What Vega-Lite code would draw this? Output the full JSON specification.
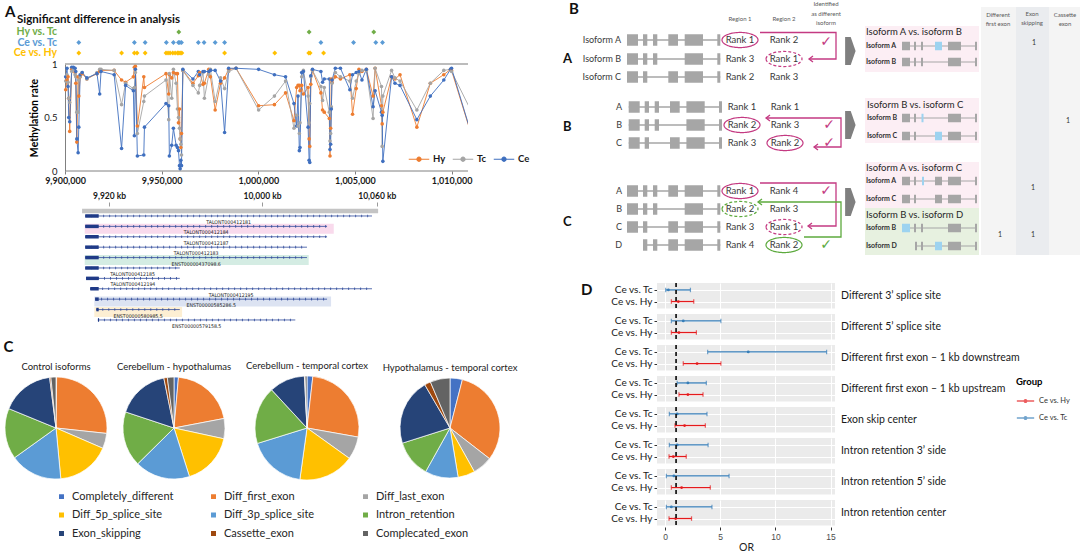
{
"$schema": "https://vega.github.io/schema/vega-lite/v6.json",
"background": "white",
"padding": {"left": 3, "top": 1, "right": 0, "bottom": 0},
"config": {
  "view": {"stroke": null},
  "font": "Lato",
  "title": {"font": "Lato", "color": "#111111"},
  "axis": {"labelFont": "Lato", "titleFont": "Lato"},
  "legend": {"labelFont": "Lato", "titleFont": "Lato"},
  "header": {"labelFont": "Lato", "titleFont": "Lato"}
},
"datasets": {
  "meth": [
    {"pos":9900350,"Hy":0.76,"Tc":0.84,"Ce":0.88},{"pos":9901050,"Hy":0.85,"Tc":0.90,"Ce":0.96},{"pos":9901570,"Hy":0.88,"Tc":0.83,"Ce":0.79},
    {"pos":9901920,"Hy":0.68,"Tc":0.68,"Ce":0.50},{"pos":9902440,"Hy":0.37,"Tc":0.64,"Ce":0.46},{"pos":9903480,"Hy":0.95,"Tc":0.93,"Ce":0.97},
    {"pos":9904360,"Hy":0.96,"Tc":0.95,"Ce":0.97},{"pos":9905230,"Hy":0.92,"Tc":0.90,"Ce":0.96},{"pos":9905570,"Hy":0.82,"Tc":0.88,"Ce":0.93},
    {"pos":9906100,"Hy":0.27,"Tc":0.55,"Ce":0.30},{"pos":9906790,"Hy":0.88,"Tc":0.55,"Ce":0.17},{"pos":9907140,"Hy":0.70,"Tc":0.85,"Ce":0.41},
    {"pos":9907840,"Hy":0.88,"Tc":0.88,"Ce":0.90},{"pos":9908880,"Hy":0.91,"Tc":0.92,"Ce":0.92},{"pos":9911320,"Hy":0.86,"Tc":0.86,"Ce":0.87},
    {"pos":9916550,"Hy":0.91,"Tc":0.92,"Ce":0.91},{"pos":9917940,"Hy":0.93,"Tc":0.95,"Ce":0.72},{"pos":9918640,"Hy":0.94,"Tc":0.95,"Ce":0.93},
    {"pos":9925430,"Hy":0.94,"Tc":0.94,"Ce":0.90},{"pos":9929270,"Hy":0.85,"Tc":0.62,"Ce":0.21},{"pos":9931360,"Hy":0.83,"Tc":0.82,"Ce":0.80},
    {"pos":9935360,"Hy":0.88,"Tc":0.77,"Ce":0.75},{"pos":9935890,"Hy":0.97,"Tc":0.78,"Ce":0.33},{"pos":9936410,"Hy":0.98,"Tc":0.92,"Ce":0.95},
    {"pos":9937450,"Hy":0.42,"Tc":0.35,"Ce":0.14},{"pos":9940760,"Hy":0.88,"Tc":0.65,"Ce":0.15},{"pos":9941110,"Hy":0.78,"Tc":0.70,"Ce":0.41},
    {"pos":9952260,"Hy":0.91,"Tc":0.85,"Ce":0.63},{"pos":9953650,"Hy":0.72,"Tc":0.48,"Ce":0.61},{"pos":9954000,"Hy":0.90,"Tc":0.91,"Ce":0.14},
    {"pos":9955220,"Hy":0.87,"Tc":0.68,"Ce":0.24},{"pos":9956090,"Hy":0.92,"Tc":0.95,"Ce":0.40},{"pos":9957490,"Hy":0.91,"Tc":0.82,"Ce":0.24},
    {"pos":9958180,"Hy":0.91,"Tc":0.58,"Ce":0.22},{"pos":9958710,"Hy":0.45,"Tc":0.50,"Ce":0.19},{"pos":9959230,"Hy":0.58,"Tc":0.40,"Ce":0.05},
    {"pos":9959580,"Hy":0.30,"Tc":0.30,"Ce":0.02},{"pos":9959930,"Hy":0.22,"Tc":0.25,"Ce":0.10},{"pos":9960270,"Hy":0.35,"Tc":0.15,"Ce":0.05},
    {"pos":9960970,"Hy":0.94,"Tc":0.94,"Ce":0.95},{"pos":9966200,"Hy":0.82,"Tc":0.80,"Ce":0.86},{"pos":9968980,"Hy":0.89,"Tc":0.73,"Ce":0.93},
    {"pos":9969680,"Hy":0.92,"Tc":0.80,"Ce":0.90},{"pos":9971420,"Hy":0.81,"Tc":0.92,"Ce":0.93},{"pos":9972120,"Hy":0.82,"Tc":0.68,"Ce":0.93},
    {"pos":9974380,"Hy":0.95,"Tc":0.90,"Ce":0.93},{"pos":9975250,"Hy":0.88,"Tc":0.95,"Ce":0.94},{"pos":9977690,"Hy":0.57,"Tc":0.65,"Ce":0.94},
    {"pos":9980480,"Hy":0.82,"Tc":0.87,"Ce":0.84},{"pos":9982570,"Hy":0.87,"Tc":0.77,"Ce":0.36},{"pos":9984660,"Hy":0.95,"Tc":0.93,"Ce":0.96},
    {"pos":9988490,"Hy":0.96,"Tc":0.96,"Ce":0.96},{"pos":10000170,"Hy":0.61,"Tc":0.57,"Ce":0.95},{"pos":10008350,"Hy":0.62,"Tc":0.70,"Ce":0.90},
    {"pos":10014100,"Hy":0.73,"Tc":0.84,"Ce":0.88},{"pos":10018460,"Hy":0.47,"Tc":0.40,"Ce":0.63},{"pos":10019850,"Hy":0.78,"Tc":0.52,"Ce":0.42},
    {"pos":10020550,"Hy":0.80,"Tc":0.42,"Ce":0.70},{"pos":10021240,"Hy":0.80,"Tc":0.35,"Ce":0.19},{"pos":10021590,"Hy":0.75,"Tc":0.45,"Ce":0.22},
    {"pos":10022460,"Hy":0.80,"Tc":0.88,"Ce":0.92},{"pos":10023330,"Hy":0.72,"Tc":0.94,"Ce":0.93},{"pos":10025770,"Hy":0.78,"Tc":0.70,"Ce":0.41},
    {"pos":10026300,"Hy":0.30,"Tc":0.45,"Ce":0.10},{"pos":10026640,"Hy":0.23,"Tc":0.63,"Ce":0.08},{"pos":10027170,"Hy":0.81,"Tc":0.88,"Ce":0.89},
    {"pos":10028040,"Hy":0.94,"Tc":0.94,"Ce":0.95},{"pos":10032390,"Hy":0.73,"Tc":0.79,"Ce":0.93},{"pos":10033260,"Hy":0.57,"Tc":0.66,"Ce":0.83},
    {"pos":10034130,"Hy":0.55,"Tc":0.78,"Ce":0.86},{"pos":10036750,"Hy":0.49,"Tc":0.55,"Ce":0.86},{"pos":10037100,"Hy":0.14,"Tc":0.28,"Ce":0.20},
    {"pos":10037440,"Hy":0.40,"Tc":0.35,"Ce":0.25},{"pos":10037790,"Hy":0.86,"Tc":0.60,"Ce":0.58},{"pos":10038140,"Hy":0.83,"Tc":0.82,"Ce":0.85},
    {"pos":10039880,"Hy":0.88,"Tc":0.92,"Ce":0.96},{"pos":10042500,"Hy":0.86,"Tc":0.88,"Ce":0.96},{"pos":10047370,"Hy":0.90,"Tc":0.84,"Ce":0.76},
    {"pos":10048770,"Hy":0.53,"Tc":0.68,"Ce":0.90},{"pos":10050680,"Hy":0.77,"Tc":0.84,"Ce":0.92},{"pos":10052080,"Hy":0.95,"Tc":0.91,"Ce":0.93},
    {"pos":10053640,"Hy":0.93,"Tc":0.94,"Ce":0.85},{"pos":10055910,"Hy":0.95,"Tc":0.94,"Ce":0.95},{"pos":10059390,"Hy":0.70,"Tc":0.49,"Ce":0.60},
    {"pos":10060440,"Hy":0.96,"Tc":0.96,"Ce":0.75},{"pos":10063750,"Hy":0.61,"Tc":0.79,"Ce":0.55},{"pos":10064100,"Hy":0.44,"Tc":0.23,"Ce":0.52},
    {"pos":10064440,"Hy":0.55,"Tc":0.70,"Ce":0.09},{"pos":10068970,"Hy":0.88,"Tc":0.94,"Ce":0.88},{"pos":10070720,"Hy":0.86,"Tc":0.87,"Ce":0.82},
    {"pos":10073330,"Hy":0.90,"Tc":0.84,"Ce":0.80},{"pos":10082040,"Hy":0.41,"Tc":0.57,"Ce":0.48},{"pos":10089010,"Hy":0.82,"Tc":0.82,"Ce":0.70},
    {"pos":10095980,"Hy":0.90,"Tc":0.94,"Ce":0.85},{"pos":10099460,"Hy":0.95,"Tc":0.95,"Ce":0.95},{"pos":10099980,"Hy":0.94,"Tc":0.93,"Ce":0.96},
    {"pos":10114000,"Hy":0.12,"Tc":0.42,"Ce":0.12}
  ],
  "sig": [
    {"pos":9958880,"comp":"Hy vs. Tc"},{"pos":10026300,"comp":"Hy vs. Tc"},{"pos":10059750,"comp":"Hy vs. Tc"},
    {"pos":9907140,"comp":"Ce vs. Tc"},{"pos":9935890,"comp":"Ce vs. Tc"},{"pos":9941460,"comp":"Ce vs. Tc"},{"pos":9952440,"comp":"Ce vs. Tc"},
    {"pos":9956090,"comp":"Ce vs. Tc"},{"pos":9958710,"comp":"Ce vs. Tc"},{"pos":9959400,"comp":"Ce vs. Tc"},{"pos":9960270,"comp":"Ce vs. Tc"},
    {"pos":9968980,"comp":"Ce vs. Tc"},{"pos":9971950,"comp":"Ce vs. Tc"},{"pos":9977690,"comp":"Ce vs. Tc"},{"pos":9982570,"comp":"Ce vs. Tc"},
    {"pos":10032390,"comp":"Ce vs. Tc"},{"pos":10049290,"comp":"Ce vs. Tc"},{"pos":10060790,"comp":"Ce vs. Tc"},{"pos":10064270,"comp":"Ce vs. Tc"},
    {"pos":9907140,"comp":"Ce vs. Hy"},{"pos":9929270,"comp":"Ce vs. Hy"},{"pos":9935890,"comp":"Ce vs. Hy"},{"pos":9937280,"comp":"Ce vs. Hy"},
    {"pos":9941460,"comp":"Ce vs. Hy"},{"pos":9952260,"comp":"Ce vs. Hy"},{"pos":9953310,"comp":"Ce vs. Hy"},{"pos":9954350,"comp":"Ce vs. Hy"},
    {"pos":9955740,"comp":"Ce vs. Hy"},{"pos":9956960,"comp":"Ce vs. Hy"},{"pos":9958180,"comp":"Ce vs. Hy"},{"pos":9958880,"comp":"Ce vs. Hy"},
    {"pos":9959580,"comp":"Ce vs. Hy"},{"pos":9960450,"comp":"Ce vs. Hy"},{"pos":9982570,"comp":"Ce vs. Hy"},{"pos":10008530,"comp":"Ce vs. Hy"},
    {"pos":10026120,"comp":"Ce vs. Hy"},{"pos":10026820,"comp":"Ce vs. Hy"},{"pos":10033790,"comp":"Ce vs. Hy"}
  ],
  "tracks": [
    {"track":1,"name":"TALONT000412181","start":9907.6,"end":10057.5,"cs":9907.6,"ce":9914.6,"band":null,"bs":null,"be":null},
    {"track":2,"name":"TALONT000412184","start":9907.6,"end":10034.0,"cs":9907.6,"ce":9914.6,"band":"hl1","bs":9907.3,"be":10037.5},
    {"track":3,"name":"TALONT000412187","start":9907.6,"end":10034.0,"cs":9907.6,"ce":9914.6,"band":null,"bs":null,"be":null},
    {"track":4,"name":"TALONT000412183","start":9907.6,"end":10023.5,"cs":9907.6,"ce":9914.6,"band":null,"bs":null,"be":null},
    {"track":5,"name":"ENST00000437098.6","start":9907.6,"end":10023.5,"cs":9907.6,"ce":9914.6,"band":"hl2","bs":9907.3,"be":10024.4},
    {"track":6,"name":"TALONT000412185","start":9907.6,"end":9957.0,"cs":9907.6,"ce":9914.6,"band":null,"bs":null,"be":null},
    {"track":7,"name":"TALONT000412194","start":9908.0,"end":9957.0,"cs":9908.0,"ce":9914.6,"band":null,"bs":null,"be":null},
    {"track":8,"name":"TALONT000412195","start":9910.2,"end":10057.5,"cs":9910.2,"ce":9914.6,"band":null,"bs":null,"be":null},
    {"track":9,"name":"ENST00000585286.5","start":9912.8,"end":10034.0,"cs":9912.8,"ce":9914.6,"band":"hl3","bs":9912.3,"be":10036.1},
    {"track":10,"name":"ENST00000580985.5","start":9913.4,"end":9957.0,"cs":9913.4,"ce":9914.6,"band":"hl4","bs":9912.3,"be":9958.2},
    {"track":11,"name":"ENST00000579158.5","start":9914.2,"end":10017.4,"cs":9914.2,"ce":9914.8,"band":null,"bs":null,"be":null}
  ],
  "ruler": [{"s": 9905.9, "e": 10060.7, "t": 0.52}],
  "pies": [
    {"pie":"Control isoforms","cat":"Completely_different","k":1,"v":0.2},{"pie":"Control isoforms","cat":"Diff_first_exon","k":2,"v":26.5},
    {"pie":"Control isoforms","cat":"Diff_last_exon","k":3,"v":4.8},{"pie":"Control isoforms","cat":"Diff_5p_splice_site","k":4,"v":17},
    {"pie":"Control isoforms","cat":"Diff_3p_splice_site","k":5,"v":16.6},{"pie":"Control isoforms","cat":"Intron_retention","k":6,"v":16.1},
    {"pie":"Control isoforms","cat":"Exon_skipping","k":7,"v":16.8},{"pie":"Control isoforms","cat":"Cassette_exon","k":8,"v":0.4},
    {"pie":"Control isoforms","cat":"Complecated_exon","k":9,"v":1.6},
    {"pie":"Cerebellum - hypothalumas","cat":"Completely_different","k":1,"v":1.4},{"pie":"Cerebellum - hypothalumas","cat":"Diff_first_exon","k":2,"v":20.6},
    {"pie":"Cerebellum - hypothalumas","cat":"Diff_last_exon","k":3,"v":6.4},{"pie":"Cerebellum - hypothalumas","cat":"Diff_5p_splice_site","k":4,"v":16.7},
    {"pie":"Cerebellum - hypothalumas","cat":"Diff_3p_splice_site","k":5,"v":17.5},{"pie":"Cerebellum - hypothalumas","cat":"Intron_retention","k":6,"v":17.5},
    {"pie":"Cerebellum - hypothalumas","cat":"Exon_skipping","k":7,"v":16.7},{"pie":"Cerebellum - hypothalumas","cat":"Cassette_exon","k":8,"v":1.1},
    {"pie":"Cerebellum - hypothalumas","cat":"Complecated_exon","k":9,"v":2.1},
    {"pie":"Cerebellum - temporal cortex","cat":"Completely_different","k":1,"v":1.8},{"pie":"Cerebellum - temporal cortex","cat":"Diff_first_exon","k":2,"v":26},
    {"pie":"Cerebellum - temporal cortex","cat":"Diff_last_exon","k":3,"v":7.1},{"pie":"Cerebellum - temporal cortex","cat":"Diff_5p_splice_site","k":4,"v":17.3},
    {"pie":"Cerebellum - temporal cortex","cat":"Diff_3p_splice_site","k":5,"v":18},{"pie":"Cerebellum - temporal cortex","cat":"Intron_retention","k":6,"v":17.9},
    {"pie":"Cerebellum - temporal cortex","cat":"Exon_skipping","k":7,"v":11.1},{"pie":"Cerebellum - temporal cortex","cat":"Cassette_exon","k":8,"v":0.2},
    {"pie":"Cerebellum - temporal cortex","cat":"Complecated_exon","k":9,"v":0.6},
    {"pie":"Hypothalamus - temporal cortex","cat":"Completely_different","k":1,"v":4},{"pie":"Hypothalamus - temporal cortex","cat":"Diff_first_exon","k":2,"v":31.5},
    {"pie":"Hypothalamus - temporal cortex","cat":"Diff_last_exon","k":3,"v":6.4},{"pie":"Hypothalamus - temporal cortex","cat":"Diff_5p_splice_site","k":4,"v":5.5},
    {"pie":"Hypothalamus - temporal cortex","cat":"Diff_3p_splice_site","k":5,"v":10.7},{"pie":"Hypothalamus - temporal cortex","cat":"Intron_retention","k":6,"v":12},
    {"pie":"Hypothalamus - temporal cortex","cat":"Exon_skipping","k":7,"v":21.5},{"pie":"Hypothalamus - temporal cortex","cat":"Cassette_exon","k":8,"v":2},
    {"pie":"Hypothalamus - temporal cortex","cat":"Complecated_exon","k":9,"v":6.4}
  ],
  "forest": [
    {"type":"Different 3’ splice site","comp":"Ce vs. Tc","or":0.3,"lo":0.06,"hi":2.3},
    {"type":"Different 3’ splice site","comp":"Ce vs. Hy","or":1.2,"lo":0.57,"hi":2.6},
    {"type":"Different 5’ splice site","comp":"Ce vs. Tc","or":1.65,"lo":0.57,"hi":5.06},
    {"type":"Different 5’ splice site","comp":"Ce vs. Hy","or":1.26,"lo":0.57,"hi":2.84},
    {"type":"Different first exon – 1 kb downstream","comp":"Ce vs. Tc","or":7.54,"lo":3.86,"hi":14.64},
    {"type":"Different first exon – 1 kb downstream","comp":"Ce vs. Hy","or":2.9,"lo":1.65,"hi":5.06},
    {"type":"Different first exon – 1 kb upstream","comp":"Ce vs. Tc","or":2.07,"lo":1.1,"hi":3.74},
    {"type":"Different first exon – 1 kb upstream","comp":"Ce vs. Hy","or":2.07,"lo":1.26,"hi":3.44},
    {"type":"Exon skip center","comp":"Ce vs. Tc","or":1.1,"lo":0.39,"hi":3.8},
    {"type":"Exon skip center","comp":"Ce vs. Hy","or":1.77,"lo":0.9,"hi":3.65},
    {"type":"Intron retention 3’ side","comp":"Ce vs. Tc","or":1.1,"lo":0.39,"hi":3.9},
    {"type":"Intron retention 3’ side","comp":"Ce vs. Hy","or":0.75,"lo":0.36,"hi":1.92},
    {"type":"Intron retention 5’ side","comp":"Ce vs. Tc","or":0.8,"lo":0.12,"hi":5.8},
    {"type":"Intron retention 5’ side","comp":"Ce vs. Hy","or":1.5,"lo":0.57,"hi":4.1},
    {"type":"Intron retention center","comp":"Ce vs. Tc","or":0.57,"lo":0.12,"hi":4.25},
    {"type":"Intron retention center","comp":"Ce vs. Hy","or":0.96,"lo":0.36,"hi":2.4}
  ],
  "bcol": [
    {"x1":418,"x2":453,"y1":7,"y2":255,"c":"a"},{"x1":453,"x2":486,"y1":7,"y2":255,"c":"b"},{"x1":486,"x2":520,"y1":7,"y2":255,"c":"a"}
  ],
  "bbox": [
    {"x1":302,"x2":416,"y1":26,"y2":72,"l":"r1"},{"x1":302,"x2":416,"y1":98,"y2":143,"l":"r1"},
    {"x1":302,"x2":416,"y1":162,"y2":208,"l":"r1"},{"x1":302,"x2":416,"y1":208,"y2":255,"l":"r2"}
  ],
  "bmod": [
    {"k":"b","y":40,"s":64,"e":157.3},{"k":"b","y":59,"s":64,"e":157.3},{"k":"b","y":77,"s":64,"e":157.3},
    {"k":"b","y":107,"s":65.7,"e":159},{"k":"b","y":125,"s":65.7,"e":159},{"k":"b","y":143,"s":65.7,"e":159},
    {"k":"b","y":191,"s":64,"e":157.3},{"k":"b","y":209,"s":64,"e":157.3},{"k":"b","y":227,"s":64,"e":157.3},{"k":"b","y":245,"s":80,"e":157.3},
    {"k":"m","y":46,"s":339,"e":414},{"k":"m","y":62,"s":339,"e":414},{"k":"m","y":118,"s":339,"e":414},{"k":"m","y":136,"s":339,"e":414},
    {"k":"m","y":181,"s":339,"e":414},{"k":"m","y":199,"s":339,"e":414},{"k":"m","y":228,"s":339,"e":414},{"k":"m","y":246,"s":352,"e":414}
  ],
  "bex": [
    {"k":"b","y":40,"s":64,"e":75,"h":0},{"k":"b","y":40,"s":80,"e":84.3,"h":0},{"k":"b","y":40,"s":90,"e":94.3,"h":0},{"k":"b","y":40,"s":105.3,"e":115,"h":0},{"k":"b","y":40,"s":121.7,"e":140,"h":0},{"k":"b","y":40,"s":154.3,"e":157.3,"h":0},
    {"k":"b","y":59,"s":64,"e":75,"h":0},{"k":"b","y":59,"s":80,"e":84.3,"h":0},{"k":"b","y":59,"s":90,"e":94.3,"h":0},{"k":"b","y":59,"s":121.7,"e":140,"h":0},{"k":"b","y":59,"s":154.3,"e":157.3,"h":0},
    {"k":"b","y":77,"s":64,"e":75,"h":0},{"k":"b","y":77,"s":80,"e":84.3,"h":0},{"k":"b","y":77,"s":105.3,"e":115,"h":0},{"k":"b","y":77,"s":121.7,"e":140,"h":0},{"k":"b","y":77,"s":154.3,"e":157.3,"h":0},
    {"k":"b","y":107,"s":65.7,"e":76.7,"h":0},{"k":"b","y":107,"s":81.7,"e":86,"h":0},{"k":"b","y":107,"s":91.7,"e":96,"h":0},{"k":"b","y":107,"s":107,"e":116.7,"h":0},{"k":"b","y":107,"s":123.4,"e":141.7,"h":0},{"k":"b","y":107,"s":156,"e":159,"h":0},
    {"k":"b","y":125,"s":65.7,"e":76.7,"h":0},{"k":"b","y":125,"s":81.7,"e":86,"h":0},{"k":"b","y":125,"s":91.7,"e":96,"h":0},{"k":"b","y":125,"s":123.4,"e":141.7,"h":0},{"k":"b","y":125,"s":156,"e":159,"h":0},
    {"k":"b","y":143,"s":65.7,"e":76.7,"h":0},{"k":"b","y":143,"s":81.7,"e":86,"h":0},{"k":"b","y":143,"s":107,"e":116.7,"h":0},{"k":"b","y":143,"s":123.4,"e":141.7,"h":0},{"k":"b","y":143,"s":156,"e":159,"h":0},
    {"k":"b","y":191,"s":64,"e":75,"h":0},{"k":"b","y":191,"s":80,"e":84.3,"h":0},{"k":"b","y":191,"s":90,"e":94.3,"h":0},{"k":"b","y":191,"s":105.3,"e":115,"h":0},{"k":"b","y":191,"s":121.7,"e":140,"h":0},{"k":"b","y":191,"s":154.3,"e":157.3,"h":0},
    {"k":"b","y":209,"s":64,"e":75,"h":0},{"k":"b","y":209,"s":80,"e":84.3,"h":0},{"k":"b","y":209,"s":90,"e":94.3,"h":0},{"k":"b","y":209,"s":121.7,"e":140,"h":0},{"k":"b","y":209,"s":154.3,"e":157.3,"h":0},
    {"k":"b","y":227,"s":64,"e":75,"h":0},{"k":"b","y":227,"s":80,"e":84.3,"h":0},{"k":"b","y":227,"s":105.3,"e":115,"h":0},{"k":"b","y":227,"s":121.7,"e":140,"h":0},{"k":"b","y":227,"s":154.3,"e":157.3,"h":0},
    {"k":"b","y":245,"s":80,"e":84.3,"h":0},{"k":"b","y":245,"s":90,"e":94.3,"h":0},{"k":"b","y":245,"s":105.3,"e":115,"h":0},{"k":"b","y":245,"s":121.7,"e":140,"h":0},{"k":"b","y":245,"s":154.3,"e":157.3,"h":0},
    {"k":"m","y":46,"s":339,"e":347,"h":0},{"k":"m","y":46,"s":351,"e":353,"h":0},{"k":"m","y":46,"s":358,"e":360,"h":0},{"k":"m","y":46,"s":372,"e":379,"h":1},{"k":"m","y":46,"s":385,"e":398,"h":0},{"k":"m","y":46,"s":412,"e":414,"h":0},
    {"k":"m","y":62,"s":339,"e":347,"h":0},{"k":"m","y":62,"s":351,"e":353,"h":0},{"k":"m","y":62,"s":358,"e":360,"h":0},{"k":"m","y":62,"s":385,"e":398,"h":0},{"k":"m","y":62,"s":412,"e":414,"h":0},
    {"k":"m","y":118,"s":339,"e":347,"h":0},{"k":"m","y":118,"s":351,"e":353,"h":0},{"k":"m","y":118,"s":358.5,"e":360.5,"h":1},{"k":"m","y":118,"s":385,"e":398,"h":0},{"k":"m","y":118,"s":412,"e":414,"h":0},
    {"k":"m","y":136,"s":339,"e":347,"h":0},{"k":"m","y":136,"s":351,"e":353,"h":0},{"k":"m","y":136,"s":372,"e":379,"h":1},{"k":"m","y":136,"s":385,"e":398,"h":0},{"k":"m","y":136,"s":412,"e":414,"h":0},
    {"k":"m","y":181,"s":339,"e":347,"h":0},{"k":"m","y":181,"s":351,"e":353,"h":0},{"k":"m","y":181,"s":359,"e":361,"h":1},{"k":"m","y":181,"s":372,"e":379,"h":0},{"k":"m","y":181,"s":385,"e":398,"h":0},{"k":"m","y":181,"s":412,"e":414,"h":0},
    {"k":"m","y":199,"s":339,"e":347,"h":0},{"k":"m","y":199,"s":351,"e":353,"h":0},{"k":"m","y":199,"s":372,"e":379,"h":0},{"k":"m","y":199,"s":385,"e":398,"h":0},{"k":"m","y":199,"s":412,"e":414,"h":0},
    {"k":"m","y":228,"s":339,"e":347,"h":1},{"k":"m","y":228,"s":351,"e":353,"h":0},{"k":"m","y":228,"s":358,"e":360,"h":0},{"k":"m","y":228,"s":385,"e":398,"h":0},{"k":"m","y":228,"s":412,"e":414,"h":0},
    {"k":"m","y":246,"s":352,"e":354,"h":0},{"k":"m","y":246,"s":358,"e":360,"h":0},{"k":"m","y":246,"s":372,"e":379,"h":1},{"k":"m","y":246,"s":385,"e":398,"h":0},{"k":"m","y":246,"s":412,"e":414,"h":0}
  ],
  "bell": [
    {"x":177,"y":40,"l":"r1","d":"s"},{"x":221,"y":59,"l":"r1","d":"d"},{"x":179,"y":125,"l":"r1","d":"s"},{"x":222,"y":143,"l":"r1","d":"s"},
    {"x":177,"y":191,"l":"r1","d":"s"},{"x":177,"y":209,"l":"r2","d":"d"},{"x":221,"y":227,"l":"r1","d":"d"},{"x":221,"y":245,"l":"r2","d":"s"}
  ],
  "bpath": [
    {"p":"p1","o":0,"x":197,"y":32.5,"l":"r1"},{"p":"p1","o":1,"x":273,"y":32.5,"l":"r1"},{"p":"p1","o":2,"x":273,"y":59,"l":"r1"},{"p":"p1","o":3,"x":246,"y":59,"l":"r1"},
    {"p":"p2","o":0,"x":203,"y":118,"l":"r1"},{"p":"p2","o":1,"x":278,"y":118,"l":"r1"},{"p":"p2","o":2,"x":278,"y":147,"l":"r1"},{"p":"p2","o":3,"x":251,"y":147,"l":"r1"},
    {"p":"p3","o":0,"x":197,"y":183,"l":"r1"},{"p":"p3","o":1,"x":273,"y":183,"l":"r1"},{"p":"p3","o":2,"x":273,"y":226,"l":"r1"},{"p":"p3","o":3,"x":245,"y":226,"l":"r1"},
    {"p":"p4","o":0,"x":241,"y":237,"l":"r2"},{"p":"p4","o":1,"x":278,"y":237,"l":"r2"},{"p":"p4","o":2,"x":278,"y":202,"l":"r2"},{"p":"p4","o":3,"x":195,"y":202,"l":"r2"}
  ],
  "bhead": [
    {"x":246,"y":59,"l":"r1"},{"x":203,"y":118,"l":"r1"},{"x":251,"y":147,"l":"r1"},{"x":245,"y":226,"l":"r1"},{"x":195,"y":202,"l":"r2"}
  ],
  "bchk": [
    {"x":263,"y":42,"l":"r1"},{"x":266,"y":125,"l":"r1"},{"x":266,"y":143,"l":"r1"},{"x":263,"y":191,"l":"r1"},{"x":263,"y":245,"l":"r2"}
  ],
  "barr": [{"x":287,"y":51},{"x":287,"y":125},{"x":287,"y":202}],
  "bt": [
    {"r":"P","x":6,"y":9,"t":"B"},
    {"r":"S","x":0,"y":59,"t":"A"},{"r":"S","x":0,"y":127,"t":"B"},{"r":"S","x":0,"y":222,"t":"C"},
    {"r":"I","x":58,"y":40,"t":"Isoform A"},{"r":"I","x":58,"y":59,"t":"Isoform B"},{"r":"I","x":58,"y":77,"t":"Isoform C"},
    {"r":"I","x":59,"y":107,"t":"A"},{"r":"I","x":59,"y":125,"t":"B"},{"r":"I","x":59,"y":143,"t":"C"},
    {"r":"I","x":59,"y":191,"t":"A"},{"r":"I","x":59,"y":209,"t":"B"},{"r":"I","x":59,"y":227,"t":"C"},{"r":"I","x":59,"y":245,"t":"D"},
    {"r":"R","x":177,"y":40,"t":"Rank 1"},{"r":"R","x":221,"y":40,"t":"Rank 2"},
    {"r":"R","x":177,"y":59,"t":"Rank 3"},{"r":"R","x":221,"y":59,"t":"Rank 1"},
    {"r":"R","x":177,"y":77,"t":"Rank 2"},{"r":"R","x":221,"y":77,"t":"Rank 3"},
    {"r":"R","x":179,"y":107,"t":"Rank 1"},{"r":"R","x":222,"y":107,"t":"Rank 1"},
    {"r":"R","x":179,"y":125,"t":"Rank 2"},{"r":"R","x":222,"y":125,"t":"Rank 3"},
    {"r":"R","x":179,"y":143,"t":"Rank 3"},{"r":"R","x":222,"y":143,"t":"Rank 2"},
    {"r":"R","x":177,"y":191,"t":"Rank 1"},{"r":"R","x":221,"y":191,"t":"Rank 4"},
    {"r":"R","x":177,"y":209,"t":"Rank 2"},{"r":"R","x":221,"y":209,"t":"Rank 3"},
    {"r":"R","x":177,"y":227,"t":"Rank 3"},{"r":"R","x":221,"y":227,"t":"Rank 1"},
    {"r":"R","x":177,"y":245,"t":"Rank 4"},{"r":"R","x":221,"y":245,"t":"Rank 2"},
    {"r":"H","x":177,"y":19,"t":"Region 1"},{"r":"H","x":221,"y":19,"t":"Region 2"},
    {"r":"H","x":263,"y":4,"t":"Identified"},{"r":"H","x":263,"y":14,"t":"as different"},{"r":"H","x":263,"y":23,"t":"isoform"},
    {"r":"H","x":435,"y":15,"t":"Different"},{"r":"H","x":435,"y":24,"t":"first exon"},
    {"r":"H","x":469,"y":14,"t":"Exon"},{"r":"H","x":469,"y":23,"t":"skipping"},
    {"r":"H","x":502,"y":15,"t":"Cassette"},{"r":"H","x":502,"y":24,"t":"exon"},
    {"r":"T","x":303,"y":32,"t":"Isoform A vs. isoform B"},{"r":"T","x":304,"y":105,"t":"Isoform B vs. isoform C"},
    {"r":"T","x":303,"y":168,"t":"Isoform A vs. isoform C"},{"r":"T","x":303,"y":215,"t":"Isoform B vs. isoform D"},
    {"r":"M","x":303,"y":46,"t":"Isoform A"},{"r":"M","x":303,"y":62,"t":"Isoform B"},
    {"r":"M","x":304,"y":118,"t":"Isoform B"},{"r":"M","x":304,"y":136,"t":"Isoform C"},
    {"r":"M","x":303,"y":181,"t":"Isoform A"},{"r":"M","x":303,"y":199,"t":"Isoform C"},
    {"r":"M","x":303,"y":228,"t":"Isoform B"},{"r":"M","x":303,"y":246,"t":"Isoform D"},
    {"r":"V","x":471,"y":43,"t":"1"},{"r":"V","x":505,"y":121,"t":"1"},{"r":"V","x":470,"y":188,"t":"1"},{"r":"V","x":437,"y":235,"t":"1"},{"r":"V","x":470,"y":235,"t":"1"}
  ]
},
"hconcat": [
  {
    "vconcat": [
      {
        "vconcat": [
          {
            "title": {"text": "A", "anchor": "start", "frame": "group", "fontSize": 15, "fontWeight": "bold", "offset": 0, "dy": 6},
            "vconcat": [
              {
                "width": 463, "height": 33,
                "title": {"text": "Significant difference in analysis", "anchor": "start", "frame": "group", "dx": 12, "fontSize": 11.5, "fontWeight": "bold", "offset": 1},
                "encoding": {
                  "y": {"field": "comp", "type": "nominal", "sort": ["Hy vs. Tc", "Ce vs. Tc", "Ce vs. Hy"], "scale": {"type": "point", "padding": 0.571}, "axis": null},
                  "color": {"field": "comp", "type": "nominal", "scale": {"domain": ["Hy vs. Tc", "Ce vs. Tc", "Ce vs. Hy"], "range": ["#70AD47", "#5B9BD5", "#FFC000"]}, "legend": null}
                },
                "layer": [
                  {"data": {"name": "sig"}, "mark": {"type": "point", "shape": "diamond", "filled": true, "size": 24, "opacity": 1},
                   "encoding": {"x": {"field": "pos", "type": "quantitative", "scale": {"domain": [9868956, 10108500], "nice": false, "zero": false}, "axis": null}}},
                  {"data": {"values": [{"comp": "Hy vs. Tc"}, {"comp": "Ce vs. Tc"}, {"comp": "Ce vs. Hy"}]},
                   "mark": {"type": "text", "align": "right", "dx": -8, "fontSize": 10.5, "fontWeight": "bold"},
                   "encoding": {"x": {"datum": 9900000, "type": "quantitative"}, "text": {"field": "comp"}}}
                ]
              },
              {
                "width": 463, "height": 107,
                "layer": [
                  {"data": {"name": "meth"}, "transform": [{"fold": ["Hy", "Tc", "Ce"], "as": ["series", "rate"]}],
                   "mark": {"type": "line", "strokeWidth": 0.9, "clip": true},
                   "encoding": {
                     "x": {"field": "pos", "type": "quantitative", "scale": {"domain": [9868956, 10108500], "nice": false, "zero": false},
                           "axis": {"values": [9900000, 9950000, 10000000, 10050000, 10100000], "labelExpr": "datum.value == 10000000 ? '1,000,000' : datum.value == 10050000 ? '1,005,000' : datum.value == 10100000 ? '1,010,000' : format(datum.value, ',')", "labelFontWeight": "bold", "labelFontSize": 9, "labelColor": "#1a1a1a", "tickSize": 3, "tickColor": "#808080", "domain": false, "grid": false, "title": null, "labelPadding": 2, "labelFlush": false, "labelOverlap": false}},
                     "y": {"field": "rate", "type": "quantitative", "scale": {"domain": [0, 1], "nice": false},
                           "axis": {"offset": -60, "values": [0, 0.5, 1], "format": "~g", "title": "Methylation rate", "titleFontWeight": "bold", "titleFontSize": 10.5, "titleX": -26, "titleY": 53.5, "domainColor": "#808080", "ticks": false, "labelPadding": 8, "labelFontSize": 9.5, "labelColor": "#1a1a1a", "grid": false}},
                     "color": {"field": "series", "type": "nominal", "scale": {"domain": ["Hy", "Tc", "Ce"], "range": ["#ED7D31", "#A5A5A5", "#3F6FBF"]},
                               "legend": {"orient": "none", "legendX": 403, "legendY": 84, "direction": "horizontal", "title": null, "symbolType": "M-1,0L1,0M-0.2,0A0.2,0.2,0,1,1,0.2,0A0.2,0.2,0,1,1,-0.2,0M-0.1,0A0.1,0.1,0,1,1,0.1,0A0.1,0.1,0,1,1,-0.1,0", "symbolSize": 420, "symbolStrokeWidth": 1.2, "labelFontSize": 9.5, "labelFontWeight": "bold", "labelColor": "#1a1a1a", "labelOffset": 3, "columnPadding": 4}}
                   }},
                  {"data": {"name": "meth"}, "transform": [{"fold": ["Hy", "Tc", "Ce"], "as": ["series", "rate"]}, {"filter": "datum.pos < 10108500"}],
                   "mark": {"type": "point", "filled": true, "size": 13, "opacity": 1},
                   "encoding": {"x": {"field": "pos", "type": "quantitative"}, "y": {"field": "rate", "type": "quantitative"}, "color": {"field": "series", "type": "nominal"}}},
                  {"data": {"values": [{}]}, "mark": {"type": "rule", "color": "#A6A6A6", "strokeWidth": 1.4},
                   "encoding": {"x": {"datum": 9900000, "type": "quantitative"}, "x2": {"datum": 10108500}, "y": {"datum": 1, "type": "quantitative"}}},
                  {"data": {"values": [{}]}, "mark": {"type": "rule", "color": "#808080", "strokeWidth": 1},
                   "encoding": {"x": {"datum": 9900000, "type": "quantitative"}, "x2": {"datum": 10108500}, "y": {"datum": 0, "type": "quantitative"}}}
                ]
              }
            ],
            "spacing": 0,
            "resolve": {"scale": {"color": "independent"}}
          },
          {
            "width": 380, "height": 123,
            "encoding": {
              "x": {"type": "quantitative", "scale": {"domain": [9865.6, 10064.3], "nice": false, "zero": false},
                    "axis": {"orient": "top", "values": [9920, 10000, 10060], "format": ",.0f", "labelExpr": "datum.label + ' kb'", "labelOverlap": false, "labelFlush": false, "labelFontWeight": "bold", "labelFontSize": 8.5, "labelColor": "#1a1a1a", "tickSize": 4, "tickColor": "#9A9A9A", "domain": false, "labelPadding": 2, "title": null, "grid": false}},
              "y": {"type": "quantitative", "scale": {"domain": [0.04, 11.87], "reverse": true, "nice": false, "zero": false}, "axis": null}
            },
            "layer": [
              {"data": {"name": "ruler"}, "mark": {"type": "rule", "strokeWidth": 4.5, "color": "#C4C4C4"},
               "encoding": {"x": {"field": "s"}, "x2": {"field": "e"}, "y": {"field": "t"}}},
              {"data": {"name": "tracks"}, "transform": [{"filter": "datum.band != null"}], "mark": {"type": "rule", "strokeWidth": 10, "yOffset": 2.4},
               "encoding": {"x": {"field": "bs"}, "x2": {"field": "be"}, "y": {"field": "track"},
                            "color": {"field": "band", "type": "nominal", "scale": {"domain": ["hl1", "hl2", "hl3", "hl4"], "range": ["#F9DAEC", "#D4ECE3", "#DCE3F2", "#FDEFD3"]}, "legend": null}}},
              {"data": {"name": "tracks"}, "mark": {"type": "rule", "strokeWidth": 0.8, "color": "#2F4A9A"},
               "encoding": {"x": {"field": "start"}, "x2": {"field": "end"}, "y": {"field": "track"}}},
              {"data": {"name": "tracks"}, "mark": {"type": "rule", "strokeWidth": 2.6, "strokeDash": [0.8, 5.2], "color": "#2F4A9A"},
               "encoding": {"x": {"field": "start"}, "x2": {"field": "end"}, "y": {"field": "track"}}},
              {"data": {"name": "tracks"}, "mark": {"type": "rule", "strokeWidth": 3.5, "color": "#1F3A87"},
               "encoding": {"x": {"field": "cs"}, "x2": {"field": "ce"}, "y": {"field": "track"}}},
              {"data": {"name": "tracks"}, "transform": [{"fold": ["start", "end"], "as": ["kk", "p"]}],
               "mark": {"type": "text", "dy": 6, "fontSize": 5.2, "font": "DejaVu Sans Condensed", "color": "#222222"},
               "encoding": {"x": {"field": "p", "aggregate": "mean"}, "y": {"field": "track"}, "text": {"field": "name"}}}
            ]
          }
        ],
        "spacing": 6,
        "resolve": {"scale": {"color": "independent"}}
      },
      {
        "title": {"text": "C", "anchor": "start", "fontSize": 15, "fontWeight": "bold", "offset": 6},
        "spacing": 2,
        "resolve": {"scale": {"theta": "independent"}},
        "hconcat": [
          {"width": 102, "height": 104, "title": {"text": "Control isoforms", "fontSize": 9.5, "fontWeight": "normal", "offset": 4, "color": "#222222"},
           "data": {"name": "pies"}, "transform": [{"filter": "datum.pie === 'Control isoforms'"}],
           "mark": {"type": "arc", "outerRadius": 51, "stroke": "#ffffff", "strokeWidth": 0.7},
           "encoding": {"theta": {"field": "v", "type": "quantitative", "stack": true}, "order": {"field": "k", "type": "quantitative"},
             "color": {"field": "cat", "type": "nominal", "scale": {"domain": ["Completely_different", "Diff_first_exon", "Diff_last_exon", "Diff_5p_splice_site", "Diff_3p_splice_site", "Intron_retention", "Exon_skipping", "Cassette_exon", "Complecated_exon"], "range": ["#4472C4", "#ED7D31", "#A5A5A5", "#FFC000", "#5B9BD5", "#70AD47", "#264478", "#9E480E", "#636363"]},
               "legend": {"orient": "none", "legendX": 51, "legendY": 115, "columns": 3, "direction": "horizontal", "title": null, "symbolType": "square", "symbolSize": 42, "labelFontSize": 11, "labelColor": "#262626", "labelOffset": 5, "columnPadding": 33, "rowPadding": 5.5, "gridAlign": "all", "labelLimit": 200}}}},
          {"width": 126, "height": 104, "title": {"text": "Cerebellum - hypothalumas", "fontSize": 9.5, "fontWeight": "normal", "offset": 4, "color": "#222222"},
           "data": {"name": "pies"}, "transform": [{"filter": "datum.pie === 'Cerebellum - hypothalumas'"}],
           "mark": {"type": "arc", "outerRadius": 51, "stroke": "#ffffff", "strokeWidth": 0.7},
           "encoding": {"theta": {"field": "v", "type": "quantitative", "stack": true}, "order": {"field": "k", "type": "quantitative"},
             "color": {"field": "cat", "type": "nominal", "scale": {"domain": ["Completely_different", "Diff_first_exon", "Diff_last_exon", "Diff_5p_splice_site", "Diff_3p_splice_site", "Intron_retention", "Exon_skipping", "Cassette_exon", "Complecated_exon"], "range": ["#4472C4", "#ED7D31", "#A5A5A5", "#FFC000", "#5B9BD5", "#70AD47", "#264478", "#9E480E", "#636363"]},
               "legend": {"orient": "none", "legendX": 51, "legendY": 115, "columns": 3, "direction": "horizontal", "title": null, "symbolType": "square", "symbolSize": 42, "labelFontSize": 11, "labelColor": "#262626", "labelOffset": 5, "columnPadding": 33, "rowPadding": 5.5, "gridAlign": "all", "labelLimit": 200}}}},
          {"width": 136, "height": 104, "title": {"text": "Cerebellum - temporal cortex", "fontSize": 9.5, "fontWeight": "normal", "offset": 4, "color": "#222222"},
           "data": {"name": "pies"}, "transform": [{"filter": "datum.pie === 'Cerebellum - temporal cortex'"}],
           "mark": {"type": "arc", "outerRadius": 52, "stroke": "#ffffff", "strokeWidth": 0.7},
           "encoding": {"theta": {"field": "v", "type": "quantitative", "stack": true}, "order": {"field": "k", "type": "quantitative"},
             "color": {"field": "cat", "type": "nominal", "scale": {"domain": ["Completely_different", "Diff_first_exon", "Diff_last_exon", "Diff_5p_splice_site", "Diff_3p_splice_site", "Intron_retention", "Exon_skipping", "Cassette_exon", "Complecated_exon"], "range": ["#4472C4", "#ED7D31", "#A5A5A5", "#FFC000", "#5B9BD5", "#70AD47", "#264478", "#9E480E", "#636363"]},
               "legend": {"orient": "none", "legendX": 51, "legendY": 115, "columns": 3, "direction": "horizontal", "title": null, "symbolType": "square", "symbolSize": 42, "labelFontSize": 11, "labelColor": "#262626", "labelOffset": 5, "columnPadding": 33, "rowPadding": 5.5, "gridAlign": "all", "labelLimit": 200}}}},
          {"width": 146, "height": 104, "title": {"text": "Hypothalamus - temporal cortex", "fontSize": 9.5, "fontWeight": "normal", "offset": 4, "color": "#222222"},
           "data": {"name": "pies"}, "transform": [{"filter": "datum.pie === 'Hypothalamus - temporal cortex'"}],
           "mark": {"type": "arc", "outerRadius": 50, "stroke": "#ffffff", "strokeWidth": 0.7},
           "encoding": {"theta": {"field": "v", "type": "quantitative", "stack": true}, "order": {"field": "k", "type": "quantitative"},
             "color": {"field": "cat", "type": "nominal", "scale": {"domain": ["Completely_different", "Diff_first_exon", "Diff_last_exon", "Diff_5p_splice_site", "Diff_3p_splice_site", "Intron_retention", "Exon_skipping", "Cassette_exon", "Complecated_exon"], "range": ["#4472C4", "#ED7D31", "#A5A5A5", "#FFC000", "#5B9BD5", "#70AD47", "#264478", "#9E480E", "#636363"]},
               "legend": {"orient": "none", "legendX": 51, "legendY": 115, "columns": 3, "direction": "horizontal", "title": null, "symbolType": "square", "symbolSize": 42, "labelFontSize": 11, "labelColor": "#262626", "labelOffset": 5, "columnPadding": 33, "rowPadding": 5.5, "gridAlign": "all", "labelLimit": 200}}}}
        ]
      }
    ],
    "spacing": 10,
    "resolve": {"scale": {"color": "independent", "theta": "independent"}}
  },
  {
    "vconcat": [
      {
        "width": 426, "height": 250,
        "layer": [
          {"data": {"name": "bcol"}, "mark": {"type": "rect"},
           "encoding": {"x": {"field": "x1", "type": "quantitative", "scale": {"domain": [94, 520], "nice": false, "zero": false}, "axis": null}, "x2": {"field": "x2"},
                        "y": {"field": "y1", "type": "quantitative", "scale": {"domain": [26, 276], "reverse": true, "nice": false, "zero": false}, "axis": null}, "y2": {"field": "y2"},
                        "color": {"condition": {"test": "datum.c === 'b'", "value": "#EAECEF"}, "value": "#F4F4F4"}}},
          {"data": {"name": "bbox"}, "mark": {"type": "rect"},
           "encoding": {"x": {"field": "x1", "type": "quantitative", "axis": null}, "x2": {"field": "x2"}, "y": {"field": "y1", "type": "quantitative", "axis": null}, "y2": {"field": "y2"},
                        "color": {"condition": {"test": "datum.l === 'r2'", "value": "#E7F1E0"}, "value": "#FCEEF4"}}},
          {"data": {"name": "bmod"}, "transform": [{"filter": "datum.k === 'b'"}], "mark": {"type": "rule", "strokeWidth": 1.6, "color": "#A6A6A6"},
           "encoding": {"x": {"field": "s", "type": "quantitative", "axis": null}, "x2": {"field": "e"}, "y": {"field": "y", "type": "quantitative", "axis": null}}},
          {"data": {"name": "bmod"}, "transform": [{"filter": "datum.k === 'm'"}], "mark": {"type": "rule", "strokeWidth": 1.2, "color": "#A6A6A6"},
           "encoding": {"x": {"field": "s", "type": "quantitative", "axis": null}, "x2": {"field": "e"}, "y": {"field": "y", "type": "quantitative", "axis": null}}},
          {"data": {"name": "bex"}, "transform": [{"filter": "datum.k === 'b'"}], "mark": {"type": "rule", "strokeWidth": 11.5},
           "encoding": {"x": {"field": "s", "type": "quantitative", "axis": null}, "x2": {"field": "e"}, "y": {"field": "y", "type": "quantitative", "axis": null},
                        "color": {"condition": {"test": "datum.h === 1", "value": "#9DD3F0"}, "value": "#A6A6A6"}}},
          {"data": {"name": "bex"}, "transform": [{"filter": "datum.k === 'm'"}], "mark": {"type": "rule", "strokeWidth": 8.5},
           "encoding": {"x": {"field": "s", "type": "quantitative", "axis": null}, "x2": {"field": "e"}, "y": {"field": "y", "type": "quantitative", "axis": null},
                        "color": {"condition": {"test": "datum.h === 1", "value": "#9DD3F0"}, "value": "#A6A6A6"}}},
          {"data": {"name": "bell"}, "mark": {"type": "point", "shape": "M-1,0A1,0.42,0,1,1,1,0A1,0.42,0,1,1,-1,0Z", "size": 1296, "filled": false, "opacity": 1, "strokeWidth": 1.2},
           "encoding": {"x": {"field": "x", "type": "quantitative", "axis": null}, "y": {"field": "y", "type": "quantitative", "axis": null},
                        "stroke": {"condition": {"test": "datum.l === 'r2'", "value": "#5DAA3E"}, "value": "#C43A82"},
                        "strokeDash": {"condition": {"test": "datum.d === 'd'", "value": [3, 2]}, "value": [1, 0]}}},
          {"data": {"name": "bpath"}, "mark": {"type": "line", "strokeWidth": 1.3},
           "encoding": {"x": {"field": "x", "type": "quantitative", "axis": null}, "y": {"field": "y", "type": "quantitative", "axis": null},
                        "detail": {"field": "p"}, "order": {"field": "o", "type": "quantitative"},
                        "stroke": {"condition": {"test": "datum.l === 'r2'", "value": "#5DAA3E"}, "value": "#C43A82"}}},
          {"data": {"name": "bhead"}, "mark": {"type": "point", "shape": "M1,-0.75L0,0L1,0.75", "size": 64, "filled": false, "opacity": 1, "strokeWidth": 1.3},
           "encoding": {"x": {"field": "x", "type": "quantitative", "axis": null}, "y": {"field": "y", "type": "quantitative", "axis": null},
                        "stroke": {"condition": {"test": "datum.l === 'r2'", "value": "#5DAA3E"}, "value": "#C43A82"}}},
          {"data": {"name": "barr"}, "mark": {"type": "point", "shape": "M-0.35,-1L0.05,-1L0.4,0L0.05,1L-0.35,1Z", "size": 784, "filled": true, "opacity": 1, "color": "#7F7F7F"},
           "encoding": {"x": {"field": "x", "type": "quantitative", "axis": null}, "y": {"field": "y", "type": "quantitative", "axis": null}}},
          {"data": {"name": "bt"}, "transform": [{"filter": "datum.r === 'P'"}], "mark": {"type": "text", "align": "left", "baseline": "middle", "fontSize": 15, "fontWeight": "bold", "color": "#111111"},
           "encoding": {"x": {"field": "x", "type": "quantitative", "axis": null}, "y": {"field": "y", "type": "quantitative", "axis": null}, "text": {"field": "t"}}},
          {"data": {"name": "bt"}, "transform": [{"filter": "datum.r === 'S'"}], "mark": {"type": "text", "align": "left", "baseline": "middle", "fontSize": 13, "fontWeight": "bold", "color": "#111111"},
           "encoding": {"x": {"field": "x", "type": "quantitative", "axis": null}, "y": {"field": "y", "type": "quantitative", "axis": null}, "text": {"field": "t"}}},
          {"data": {"name": "bt"}, "transform": [{"filter": "datum.r === 'I'"}], "mark": {"type": "text", "align": "right", "baseline": "middle", "fontSize": 9, "color": "#3A3A3A"},
           "encoding": {"x": {"field": "x", "type": "quantitative", "axis": null}, "y": {"field": "y", "type": "quantitative", "axis": null}, "text": {"field": "t"}}},
          {"data": {"name": "bt"}, "transform": [{"filter": "datum.r === 'R'"}], "mark": {"type": "text", "align": "center", "baseline": "middle", "fontSize": 9.5, "color": "#3A3A3A"},
           "encoding": {"x": {"field": "x", "type": "quantitative", "axis": null}, "y": {"field": "y", "type": "quantitative", "axis": null}, "text": {"field": "t"}}},
          {"data": {"name": "bt"}, "transform": [{"filter": "datum.r === 'H'"}], "mark": {"type": "text", "align": "center", "baseline": "middle", "fontSize": 6, "color": "#5A5A5A"},
           "encoding": {"x": {"field": "x", "type": "quantitative", "axis": null}, "y": {"field": "y", "type": "quantitative", "axis": null}, "text": {"field": "t"}}},
          {"data": {"name": "bt"}, "transform": [{"filter": "datum.r === 'T'"}], "mark": {"type": "text", "align": "left", "baseline": "middle", "fontSize": 9.5, "color": "#262626"},
           "encoding": {"x": {"field": "x", "type": "quantitative", "axis": null}, "y": {"field": "y", "type": "quantitative", "axis": null}, "text": {"field": "t"}}},
          {"data": {"name": "bt"}, "transform": [{"filter": "datum.r === 'M'"}], "mark": {"type": "text", "align": "left", "baseline": "middle", "fontSize": 7, "fontWeight": "bold", "color": "#303030"},
           "encoding": {"x": {"field": "x", "type": "quantitative", "axis": null}, "y": {"field": "y", "type": "quantitative", "axis": null}, "text": {"field": "t"}}},
          {"data": {"name": "bt"}, "transform": [{"filter": "datum.r === 'V'"}], "mark": {"type": "text", "align": "center", "baseline": "middle", "fontSize": 7, "color": "#333333"},
           "encoding": {"x": {"field": "x", "type": "quantitative", "axis": null}, "y": {"field": "y", "type": "quantitative", "axis": null}, "text": {"field": "t"}}},
          {"data": {"name": "bchk"}, "mark": {"type": "text", "align": "center", "baseline": "middle", "fontSize": 14, "fontWeight": "bold", "font": "DejaVu Sans"},
           "encoding": {"x": {"field": "x", "type": "quantitative", "axis": null}, "y": {"field": "y", "type": "quantitative", "axis": null}, "text": {"value": "✓"},
                        "color": {"condition": {"test": "datum.l === 'r2'", "value": "#5DAA3E"}, "value": "#C43A82"}}}
        ]
      },
      {
        "title": {"text": "D", "anchor": "start", "frame": "group", "dx": -76, "dy": 16, "fontSize": 15, "fontWeight": "bold", "offset": 0},
        "data": {"name": "forest"},
        "spacing": {"row": 3},
        "facet": {"row": {"field": "type", "type": "nominal",
          "sort": ["Different 3’ splice site", "Different 5’ splice site", "Different first exon – 1 kb downstream", "Different first exon – 1 kb upstream", "Exon skip center", "Intron retention 3’ side", "Intron retention 5’ side", "Intron retention center"],
          "header": {"title": null, "labels": false}}},
        "spec": {
          "width": 178, "height": 25.5,
          "view": {"fill": "#EBEBEB", "stroke": null},
          "layer": [
            {"mark": {"type": "rule", "strokeWidth": 1.3},
             "encoding": {
               "x": {"field": "lo", "type": "quantitative", "scale": {"domain": [-0.73, 15.4], "nice": false, "zero": false},
                     "axis": {"title": "OR", "values": [0, 2.5, 5, 7.5, 10, 12.5, 15], "format": "~g", "labelExpr": "datum.value % 5 === 0 ? datum.label : ''", "labelOverlap": false, "grid": true, "gridColor": "#FFFFFF",
                              "gridWidth": {"condition": {"test": "datum.value % 5 === 0", "value": 1.1}, "value": 0.5},
                              "tickColor": {"condition": {"test": "datum.value % 5 === 0", "value": "#333333"}, "value": "transparent"},
                              "tickSize": 3, "domain": false, "labelColor": "#4D4D4D", "labelFontSize": 8.5, "labelFont": "Liberation Sans", "titleFontSize": 10.5, "titleFontWeight": "normal", "titleColor": "#222222", "titlePadding": 2, "labelPadding": 2}},
               "x2": {"field": "hi"},
               "y": {"field": "comp", "type": "nominal", "sort": ["Ce vs. Tc", "Ce vs. Hy"], "scale": {"type": "point", "padding": 0.6},
                     "axis": {"title": null, "domain": false, "tickColor": "#333333", "tickSize": 3, "labelFontSize": 10, "labelColor": "#1a1a1a", "labelPadding": 2, "grid": true, "gridColor": "#FFFFFF", "gridWidth": 1.1}},
               "color": {"field": "comp", "type": "nominal", "scale": {"domain": ["Ce vs. Hy", "Ce vs. Tc"], "range": ["#E41A1C", "#377EB8"]},
                         "legend": {"title": "Group", "orient": "none", "legendX": 359, "legendY": 94, "titleFontSize": 9.5, "titleFontWeight": "bold", "labelFontSize": 7.5, "labelColor": "#333333", "symbolType": "M-1,0L1,0M-0.15,0A0.15,0.15,0,1,1,0.15,0A0.15,0.15,0,1,1,-0.15,0", "symbolSize": 300, "symbolStrokeWidth": 1.3, "rowPadding": 3, "titlePadding": 5}}
             }},
            {"mark": {"type": "tick", "thickness": 1.2, "size": 4.5},
             "encoding": {"x": {"field": "lo", "type": "quantitative"}, "y": {"field": "comp", "type": "nominal", "sort": ["Ce vs. Tc", "Ce vs. Hy"]}, "color": {"field": "comp", "type": "nominal"}}},
            {"mark": {"type": "tick", "thickness": 1.2, "size": 4.5},
             "encoding": {"x": {"field": "hi", "type": "quantitative"}, "y": {"field": "comp", "type": "nominal", "sort": ["Ce vs. Tc", "Ce vs. Hy"]}, "color": {"field": "comp", "type": "nominal"}}},
            {"mark": {"type": "point", "filled": true, "size": 8, "opacity": 1},
             "encoding": {"x": {"field": "or", "type": "quantitative"}, "y": {"field": "comp", "type": "nominal", "sort": ["Ce vs. Tc", "Ce vs. Hy"]}, "color": {"field": "comp", "type": "nominal"}}},
            {"mark": {"type": "rule", "strokeDash": [4, 3], "strokeWidth": 1.2, "color": "#111111"}, "encoding": {"x": {"datum": 1, "type": "quantitative"}}},
            {"transform": [{"filter": "datum.comp === 'Ce vs. Tc'"}], "mark": {"type": "text", "align": "left", "baseline": "middle", "dx": 6, "fontSize": 10.5, "color": "#1a1a1a"},
             "encoding": {"x": {"datum": 15.4, "type": "quantitative"}, "text": {"field": "type"}}}
          ]
        }
      }
    ],
    "spacing": 6,
    "resolve": {"scale": {"color": "independent"}}
  }
],
"spacing": 33,
"resolve": {"scale": {"color": "independent", "theta": "independent"}}
}
